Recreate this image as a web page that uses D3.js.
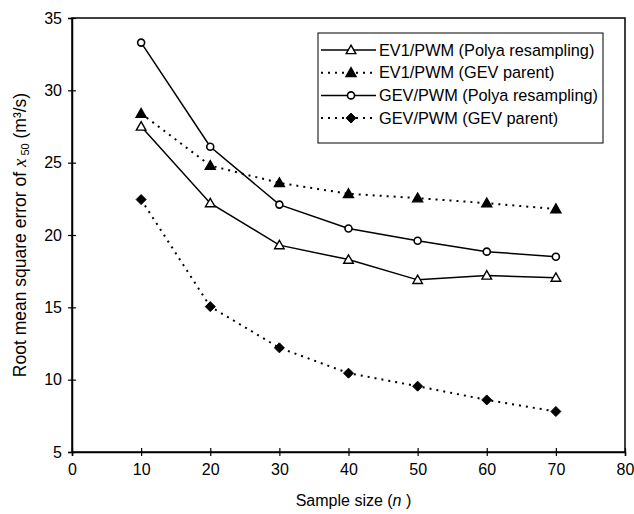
<!DOCTYPE html>
<html>
<head>
<meta charset="utf-8">
<script src="https://cdn.jsdelivr.net/npm/d3@7"></script>
<style>
  html, body { margin: 0; padding: 0; background: #fff; }
  svg { display: block; font-family: "Liberation Sans", Arial, sans-serif; }
</style>
</head>
<body>
<svg id="chart" width="634" height="514"></svg>
<script>
// Sample sizes
const sampleSizes = [10, 20, 30, 40, 50, 60, 70];

// RMSE of x50 (m³/s) for each method
const ev1Polya = [27.5, 22.2, 19.3, 18.3, 16.9, 17.2, 17.05];
const ev1Gev   = [28.4, 24.8, 23.6, 22.85, 22.55, 22.2, 21.8];
const gevPolya = [33.3, 26.1, 22.1, 20.45, 19.6, 18.85, 18.5];
const gevGev   = [22.45, 15.05, 12.2, 10.45, 9.55, 8.6, 7.8];

const xTicks = [0, 10, 20, 30, 40, 50, 60, 70, 80];
const yTicks = [5, 10, 15, 20, 25, 30, 35];

const seriesNames = [
  "EV1/PWM (Polya resampling)",
  "EV1/PWM (GEV parent)",
  "GEV/PWM (Polya resampling)",
  "GEV/PWM (GEV parent)"
];

const series = [
  { name: seriesNames[0], values: ev1Polya, dashed: false, marker: "triangle", filled: false },
  { name: seriesNames[1], values: ev1Gev,   dashed: true,  marker: "triangle", filled: true },
  { name: seriesNames[2], values: gevPolya, dashed: false, marker: "circle",   filled: false },
  { name: seriesNames[3], values: gevGev,   dashed: true,  marker: "diamond",  filled: true }
];

const margin = { left: 72, top: 18, right: 9, bottom: 62 };
const W = 634, H = 514;
const svg = d3.select("#chart");

const x = d3.scaleLinear().domain([0, 80]).range([margin.left, W - margin.right]);
const y = d3.scaleLinear().domain([5, 35]).range([H - margin.bottom, margin.top]);

// Plot frame
svg.append("rect")
  .attr("x", x(0)).attr("y", y(35))
  .attr("width", x(80) - x(0)).attr("height", y(5) - y(35))
  .attr("fill", "none").attr("stroke", "#000").attr("stroke-width", 1.5);

// Axes with ticks that cross the frame line
const xAxis = svg.append("g")
  .attr("transform", `translate(0,${y(5)})`)
  .call(d3.axisBottom(x).tickValues(xTicks).tickSize(4).tickPadding(8));
xAxis.selectAll(".tick line").clone().attr("y2", -4);

const yAxis = svg.append("g")
  .attr("transform", `translate(${x(0)},0)`)
  .call(d3.axisLeft(y).tickValues(yTicks).tickSize(4).tickPadding(6));
yAxis.selectAll(".tick line").clone().attr("x2", 4);

[xAxis, yAxis].forEach(g => {
  g.select(".domain").attr("stroke-width", 1.5);
  g.selectAll(".tick line").attr("stroke-width", 1.2);
  g.selectAll("text").attr("font-size", 16).attr("fill", "#000")
    .attr("font-family", '"Liberation Sans", Arial, sans-serif');
});

// Marker shapes
function drawMarker(g, s, cx, cy) {
  const fill = s.filled ? "#000" : "#fff";
  if (s.marker === "triangle") {
    const r = s.filled ? 5 : 4.8;
    g.append("path")
      .attr("d", `M${cx},${cy - r}L${cx + r},${cy + r * 0.75}L${cx - r},${cy + r * 0.75}Z`)
      .attr("fill", fill).attr("stroke", "#000").attr("stroke-width", 1.4);
  } else if (s.marker === "circle") {
    g.append("circle").attr("cx", cx).attr("cy", cy).attr("r", 3.5)
      .attr("fill", fill).attr("stroke", "#000").attr("stroke-width", 1.6);
  } else {
    const r = 5;
    g.append("path")
      .attr("d", `M${cx},${cy - r}L${cx + r},${cy}L${cx},${cy + r}L${cx - r},${cy}Z`)
      .attr("fill", fill).attr("stroke", "#000").attr("stroke-width", 1);
  }
}

const line = d3.line().x(d => x(d[0])).y(d => y(d[1]));

series.forEach(s => {
  const pts = sampleSizes.map((n, i) => [n, s.values[i]]);
  svg.append("path")
    .attr("d", line(pts))
    .attr("fill", "none").attr("stroke", "#000")
    .attr("stroke-width", s.dashed ? 2 : 1.5)
    .attr("stroke-dasharray", s.dashed ? "2,5" : null);
  const g = svg.append("g");
  pts.forEach(p => drawMarker(g, s, x(p[0]), y(p[1])));
});

// Legend
const lg = svg.append("g").attr("transform", "translate(318,33)");
lg.append("rect").attr("width", 285).attr("height", 110)
  .attr("fill", "#fff").attr("stroke", "#000").attr("stroke-width", 1);
series.forEach((s, i) => {
  const cy = 17 + i * 22.7;
  lg.append("line").attr("x1", 3).attr("x2", 58).attr("y1", cy).attr("y2", cy)
    .attr("stroke", "#000")
    .attr("stroke-width", s.dashed ? 2 : 1.5)
    .attr("stroke-dasharray", s.dashed ? "2,5" : null);
  drawMarker(lg, s, 33, cy);
  lg.append("text").attr("x", 61).attr("y", cy + 5.5)
    .attr("font-size", 16.3).text(s.name);
});

// X axis title
const xt = svg.append("text")
  .attr("x", (x(0) + x(80)) / 2 + 5).attr("y", 506)
  .attr("text-anchor", "middle").attr("font-size", 16);
xt.append("tspan").text("Sample size (");
xt.append("tspan").attr("font-style", "italic").text("n");
xt.append("tspan").text(" )");

// Y axis title
const yt = svg.append("text")
  .attr("transform", `translate(26,${(y(5) + y(35)) / 2}) rotate(-90)`)
  .attr("text-anchor", "middle").attr("font-size", 17.5);
yt.append("tspan").text("Root mean square error of ");
yt.append("tspan").attr("font-family", '"Liberation Serif", "Times New Roman", serif')
  .attr("font-style", "italic").attr("font-size", 19).text("x");
yt.append("tspan").attr("font-size", 11).attr("dy", 3).text(" 50");
yt.append("tspan").attr("dy", -3).text(" (m³/s)");
</script>
</body>
</html>
